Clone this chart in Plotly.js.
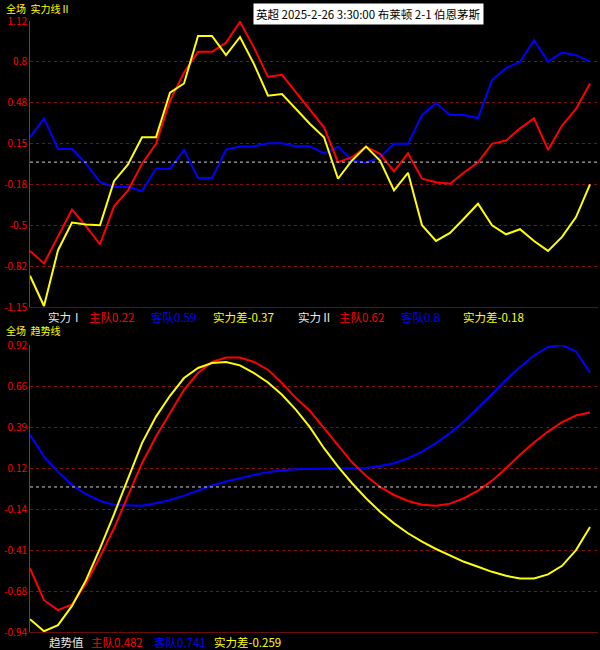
<!DOCTYPE html>
<html>
<head>
<meta charset="utf-8">
<script src="https://cdn.plot.ly/plotly-3.0.1.min.js"></script>
<style>html,body{margin:0;padding:0;background:#000;}#chart{width:600px;height:650px;}</style>
</head>
<body>
<div id="chart"></div>
<script>
// ---- Data ----
// 实力线II (top panel)
var strengthHome = [-0.705,-0.804,-0.591,-0.377,-0.509,-0.654,-0.351,-0.225,-0.013,0.145,
  0.487,0.711,0.875,0.875,0.948,1.114,0.909,0.677,0.693,0.553,
  0.416,0.276,-0.001,0.039,0.123,0.066,-0.074,0.070,-0.132,-0.159,
  -0.172,-0.082,-0.001,0.145,0.171,0.268,0.347,0.097,0.290,0.422,0.624];
var strengthAway = [0.197,0.347,0.105,0.105,-0.013,-0.159,-0.198,-0.198,-0.230,-0.053,
  -0.053,0.097,-0.127,-0.127,0.100,0.123,0.126,0.150,0.150,0.126,
  0.126,0.070,0.123,0.013,-0.005,0.039,0.145,0.145,0.374,0.469,
  0.374,0.374,0.350,0.651,0.746,0.796,0.967,0.798,0.869,0.849,0.798];
var strengthDiff = [-0.902,-1.142,-0.699,-0.480,-0.496,-0.501,-0.151,-0.019,0.197,0.197,
  0.551,0.624,1.001,1.001,0.849,0.993,0.778,0.527,0.540,0.422,
  0.303,0.197,-0.132,0.013,0.123,0.013,-0.225,-0.085,-0.501,-0.626,
  -0.562,-0.448,-0.330,-0.501,-0.573,-0.533,-0.626,-0.705,-0.594,-0.436,-0.177];
// 趋势线 (bottom panel)
var trendHome = [-0.528,-0.734,-0.798,-0.761,-0.625,-0.452,-0.268,-0.052,0.154,0.327,
  0.479,0.630,0.738,0.810,0.839,0.839,0.810,0.760,0.673,0.576,
  0.492,0.381,0.268,0.160,0.073,0.000,-0.052,-0.091,-0.115,-0.121,
  -0.108,-0.073,-0.024,0.041,0.121,0.208,0.288,0.359,0.420,0.463,0.482];
var trendAway = [0.338,0.197,0.099,0.013,-0.047,-0.089,-0.117,-0.121,-0.121,-0.106,
  -0.084,-0.056,-0.024,0.009,0.035,0.057,0.078,0.096,0.109,0.115,
  0.116,0.117,0.119,0.121,0.123,0.136,0.154,0.186,0.229,0.284,
  0.349,0.424,0.511,0.602,0.695,0.777,0.852,0.907,0.920,0.878,0.741];
var trendDiff = [-0.857,-0.935,-0.896,-0.771,-0.604,-0.398,-0.177,0.057,0.284,0.456,
  0.591,0.706,0.771,0.803,0.810,0.788,0.738,0.677,0.597,0.500,
  0.386,0.251,0.132,0.024,-0.073,-0.160,-0.236,-0.300,-0.355,-0.402,
  -0.446,-0.485,-0.517,-0.550,-0.576,-0.593,-0.593,-0.567,-0.511,-0.409,-0.259];

var topRange = [-1.15, 1.12];
var bottomRange = [-0.94, 0.92];
var topTickText = ["-1.15","-0.82","-0.5","-0.18","0.15","0.48","0.8","1.12"];
var bottomTickText = ["-0.94","-0.68","-0.41","-0.14","0.12","0.39","0.66","0.92"];

var headerText = "英超 2025-2-26 3:30:00 布莱顿 2-1 伯恩茅斯";
var topTitle = "全场  实力线Ⅱ";
var bottomTitle = "全场  趋势线";
var legend1 = ["实力Ⅰ","主队0.22","客队0.59","实力差-0.37"];
var legend2 = ["实力Ⅱ","主队0.62","客队0.8","实力差-0.18"];
var legend3 = ["趋势值","主队0.482","客队0.741","实力差-0.259"];

// ---- Build ----
var RED = "#ff0000", BLUE = "#0000ff", YEL = "#ffff00", WHITE = "#e8e8e8";
var idx = strengthHome.map(function(_, i){ return i; });

function evenTicks(r, n){ var v=[]; for (var k=0;k<n;k++) v.push(r[0] + k*(r[1]-r[0])/(n-1)); return v; }

function tr(y, color, ax){
  return {x: idx, y: y, type: "scatter", mode: "lines", xaxis: ax.x, yaxis: ax.y,
    line: {color: color, width: 2}, hoverinfo: "skip", showlegend: false};
}
var A1 = {x: "x", y: "y"}, A2 = {x: "x2", y: "y2"};
var data = [
  tr(strengthAway, BLUE, A1), tr(strengthHome, RED, A1), tr(strengthDiff, YEL, A1),
  tr(trendAway, BLUE, A2), tr(trendHome, RED, A2), tr(trendDiff, YEL, A2)
];

var W = 600, H = 650, L = 30, R = 2, T = 21, B = 18;
function px(x){ return (x - L) / (W - L - R); }
function py(y){ return (H - B - y) / (H - T - B); }

var font = "Noto Sans CJK SC, Noto Sans, sans-serif";
function yax(r, tt, dom){
  return {range: r, domain: dom, tickmode: "array", tickvals: evenTicks(r, tt.length), ticktext: tt,
    tickfont: {color: RED, size: 10, family: font}, ticks: "", showgrid: true,
    gridcolor: "#7a1212", griddash: "3px,3px", gridwidth: 1, zeroline: false,
    showline: true, linecolor: RED, linewidth: 1, fixedrange: true};
}
function xax(anchor){
  return {range: [0, 40.57], domain: [0,1], anchor: anchor, showticklabels: false, ticks: "",
    showgrid: false, zeroline: false, showline: true, linecolor: "#6a0c0c", linewidth: 1, fixedrange: true};
}

var topDom = [py(307), 1], botDom = [0, py(345)];

var ann = [];
function addText(t, x, y, color, opts){
  var a = {text: t, x: px(x), y: py(y), xref: "paper", yref: "paper", xanchor: "left", yanchor: "middle",
    showarrow: false, borderpad: 0, font: {color: color, size: 11.5, family: font}};
  if (opts) for (var k in opts) a[k] = opts[k];
  ann.push(a);
}
addText(topTitle, 5, 0, YEL, {yanchor: "top", font: {color: YEL, size: 10, family: font}});
addText(headerText, 368, 13.5, "#000000", {xanchor: "center", bgcolor: "#ffffff", borderpad: 2, font: {color:"#000", size: 11.5, family: font}});
var lx1 = [47, 88, 150, 212], lx2 = [297, 338, 400, 462], lcol = [WHITE, RED, BLUE, YEL];
legend1.forEach(function(t, i){ addText(t, lx1[i], 317, lcol[i]); });
legend2.forEach(function(t, i){ addText(t, lx2[i], 317, lcol[i]); });
addText(bottomTitle, 5, 330.5, YEL, {font: {color: YEL, size: 10, family: font}});
var lx3 = [48, 90, 153, 213];
legend3.forEach(function(t, i){ addText(t, lx3[i], 641.5, lcol[i]); });

var shapes = [
  {type: "line", xref: "x domain", yref: "y", x0: 0, x1: 1, y0: 0, y1: 0, line: {color: "#d0d0d0", width: 1, dash: "3px,3px"}},
  {type: "line", xref: "x2 domain", yref: "y2", x0: 0, x1: 1, y0: 0, y1: 0, line: {color: "#d0d0d0", width: 1, dash: "3px,3px"}}
];

var layout = {
  width: W, height: H, paper_bgcolor: "#000000", plot_bgcolor: "#000000",
  margin: {l: L, r: R, t: T, b: B, pad: 0},
  showlegend: false,
  xaxis: xax("y"), yaxis: yax(topRange, topTickText, topDom),
  xaxis2: xax("y2"), yaxis2: yax(bottomRange, bottomTickText, botDom),
  annotations: ann, shapes: shapes
};
layout.yaxis.anchor = "x"; layout.yaxis2.anchor = "x2";

Plotly.newPlot("chart", data, layout, {staticPlot: true, displayModeBar: false});
</script>
</body>
</html>
